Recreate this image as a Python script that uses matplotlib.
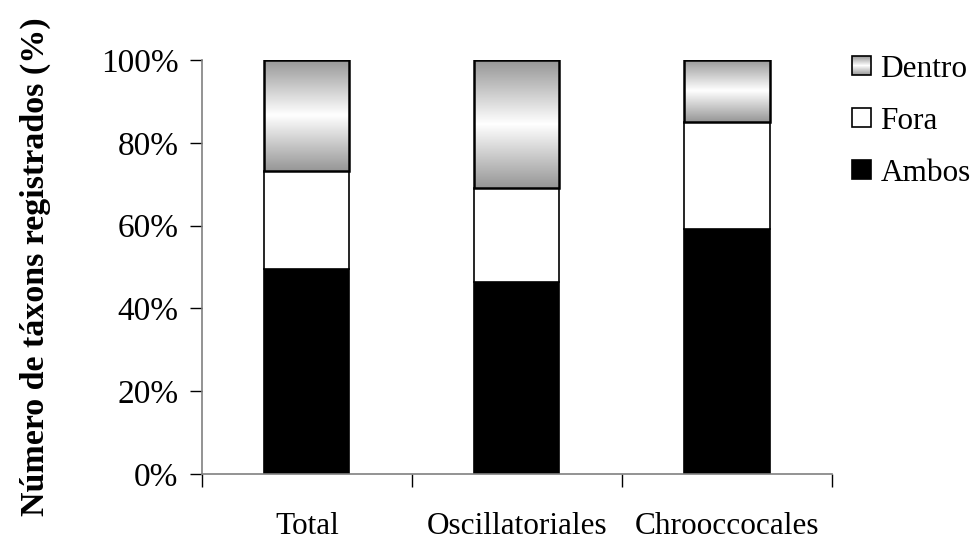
import numpy as np
import matplotlib.pyplot as plt
from matplotlib.patches import Rectangle
from matplotlib.legend_handler import HandlerBase
from matplotlib.image import BboxImage
from matplotlib.transforms import Bbox, TransformedBbox
from matplotlib.colors import LinearSegmentedColormap

plt.rcParams['font.family'] = ['Liberation Serif', 'DejaVu Serif']

categories = ["Total", "Oscillatoriales", "Chrooccocales"]
ambos = [0.495, 0.464, 0.592]
fora = [0.237, 0.227, 0.258]
dentro = [0.268, 0.309, 0.150]

# gray -> white -> gray band, as in the original spreadsheet fill
grad_cmap = LinearSegmentedColormap.from_list(
    "band", [(0.0, "#969696"), (0.5, "#ffffff"), (1.0, "#969696")])
grad = np.linspace(0, 1, 256).reshape(-1, 1)


class HandlerGradient(HandlerBase):
    def create_artists(self, legend, orig_handle, xdescent, ydescent,
                       width, height, fontsize, trans):
        s = min(width, height)
        x0 = -xdescent + (width - s) / 2
        y0 = -ydescent + (height - s) / 2
        bb = TransformedBbox(Bbox.from_bounds(x0, y0, s, s), trans)
        img = BboxImage(bb, cmap=grad_cmap, interpolation="bilinear")
        img.set_data(grad)
        rect = Rectangle((x0, y0), s, s, facecolor="none",
                         edgecolor="black", lw=1.2, transform=trans)
        return [img, rect]


class HandlerSquare(HandlerBase):
    def create_artists(self, legend, orig_handle, xdescent, ydescent,
                       width, height, fontsize, trans):
        s = min(width, height)
        x0 = -xdescent + (width - s) / 2
        y0 = -ydescent + (height - s) / 2
        rect = Rectangle((x0, y0), s, s, facecolor=orig_handle.get_facecolor(),
                         edgecolor="black", lw=1.2, transform=trans)
        return [rect]


fig = plt.figure(figsize=(9.8, 5.4), dpi=100)
ax = fig.add_axes([0.206, 0.122, 0.643, 0.767])

x = np.arange(len(categories))
w = 0.405
ax.bar(x, ambos, w, color="black", edgecolor="black", lw=1.2, zorder=2)
ax.bar(x, fora, w, bottom=ambos, color="white", edgecolor="black", lw=1.2, zorder=2)
bottom2 = np.array(ambos) + np.array(fora)
ax.bar(x, dentro, w, bottom=bottom2, color="none",
       edgecolor="black", lw=1.8, zorder=3)
for xi, b, h in zip(x, bottom2, dentro):
    ax.imshow(grad, cmap=grad_cmap, aspect="auto", interpolation="bilinear",
              extent=(xi - w / 2, xi + w / 2, b, b + h), zorder=2)

ax.set_xlim(-0.5, 2.5)
ax.set_ylim(0, 1)
ax.set_yticks(np.arange(0, 1.01, 0.2))
ax.set_yticklabels([f"{int(v * 100)}%" for v in np.arange(0, 1.01, 0.2)],
                   fontsize=24)
ax.set_xticks(np.arange(-0.5, 2.6, 1.0))
ax.set_xticklabels([])
ax.set_xticks(x, minor=True)
ax.set_xticklabels(categories, minor=True, fontsize=22.5)
ax.tick_params(axis="x", which="minor", length=0, pad=27)
ax.tick_params(axis="x", which="major", length=9, width=1, color="black")
ax.tick_params(axis="y", length=9, width=1, color="black", pad=8)
for s in ["top", "right"]:
    ax.spines[s].set_visible(False)
for s in ["left", "bottom"]:
    ax.spines[s].set_color("#808080")
    ax.spines[s].set_linewidth(1.2)

ax.set_ylabel("Número de táxons registrados (%)", fontsize=24.5,
              fontweight="bold", labelpad=36)

h_d = Rectangle((0, 0), 1, 1, facecolor="#cccccc")
h_f = Rectangle((0, 0), 1, 1, facecolor="white")
h_a = Rectangle((0, 0), 1, 1, facecolor="black")
fig.legend([h_d, h_f, h_a], ["Dentro", "Fora", "Ambos"],
           handler_map={h_d: HandlerGradient(), h_f: HandlerSquare(),
                        h_a: HandlerSquare()},
           loc="upper left", bbox_to_anchor=(0.857, 0.922),
           frameon=False, fontsize=22.5, handlelength=0.6,
           handleheight=0.6, handletextpad=0.3, labelspacing=0.74,
           borderaxespad=0)

fig.savefig("out.png", dpi=100)
